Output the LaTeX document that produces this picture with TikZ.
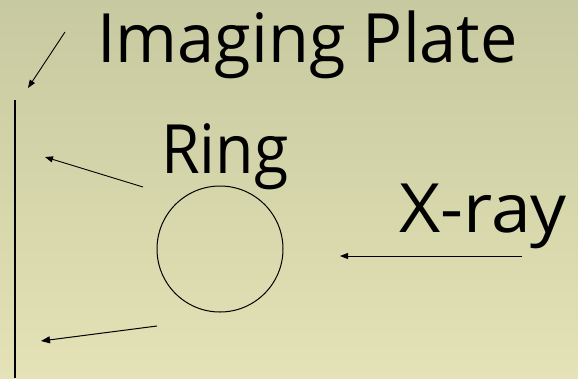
\documentclass[tikz,border=0pt]{standalone}
\usepackage{fontspec}
\setmainfont{Open Sans}
\usetikzlibrary{arrows.meta,positioning,calc}
\definecolor{bgtop}{RGB}{199,201,160}
\definecolor{bgbot}{RGB}{228,226,182}

\begin{document}
\begin{tikzpicture}[
  x=1pt, y=-1pt,
  big/.style={font=\fontsize{68}{74}\selectfont, inner sep=0pt, anchor=base west, text=black},
  ray/.style={-{Triangle[length=9pt, width=7pt]}, black, line width=1pt},
  thin ray/.style={-{Triangle[length=8pt, width=6pt]}, black, line width=0.9pt},
]

  %% Fondo degradado
  \shade[top color=bgtop, bottom color=bgbot] (0,0) rectangle (578,378);
  \useasboundingbox (0,0) rectangle (578,378);

  %% Textos
  \node[big, xscale=0.98] (plate) at (97,62)  {Imaging Plate};
  \node[big, xscale=0.92] (ring)  at (161,173) {Ring};
  \node[big, xscale=1.05] (xray)  at (399,232) {X-ray};

  %% Anillo y placa
  \node[draw, circle, line width=1pt, minimum size=126pt, inner sep=0pt] (ringc) at (220,249) {};
  \coordinate (platetop) at (15,100);
  \coordinate (platebot) at (15,378);
  \draw[line width=1.1pt] (platetop) -- (platebot);

  %% Extremos libres de las flechas
  \coordinate (p1s) at (65,32);   \coordinate (p1e) at (28,88);
  \coordinate (p2s) at (143,187); \coordinate (p2e) at (45,157);
  \coordinate (p3s) at (157,326); \coordinate (p3e) at (41,341);
  \coordinate (p4s) at (522,256); \coordinate (p4e) at (340,256);

  %% Flechas
  \draw[thin ray] (p1s) -- (p1e);
  \draw[thin ray] (p2s) -- (p2e);
  \draw[ray] (p3s) -- (p3e);
  \draw[thin ray] (p4s) -- (p4e);

\end{tikzpicture}
\end{document}
